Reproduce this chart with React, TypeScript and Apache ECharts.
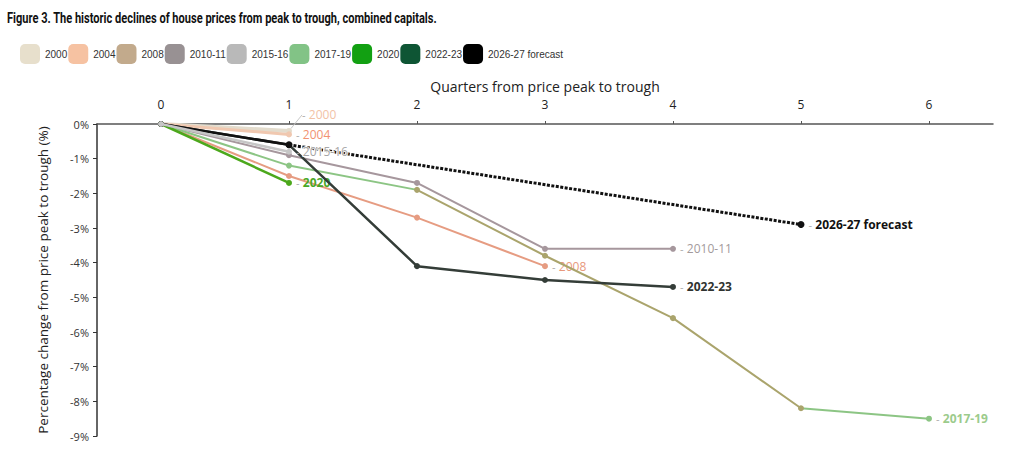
import React, { useEffect, useRef } from "react";
import * as echarts from "echarts";

const titleText =
  "Figure 3. The historic declines of house prices from peak to trough, combined capitals.";
const xAxisName = "Quarters from price peak to trough";
const yAxisName = "Percentage change from price peak to trough (%)";

const quarterTicks = [0, 1, 2, 3, 4, 5, 6];

const seriesNames = [
  "2000",
  "2004",
  "2008",
  "2010-11",
  "2015-16",
  "2017-19",
  "2020",
  "2022-23",
  "2026-27 forecast",
];

// values in % by quarter from peak (index = quarter)
const v2000 = [0, -0.2];
const v2004 = [0, -0.3];
const v2008 = [0, -1.5, -2.7, -4.1];
const v201011 = [0, -0.9, -1.7, -3.6, -3.6];
const v201516 = [0, -0.8];
const v201719 = [0, -1.2, -1.9, -3.8, -5.6, -8.2, -8.5];
const v2020 = [0, -1.7];
const v202223 = [0, -0.6, -4.1, -4.5, -4.7];
const forecastActual = [0, -0.6];
const forecastQuarters = [1, 5];
const forecastValues = [-0.6, -2.9];

const legendColors = [
  "#e7dfcc",
  "#f6c2a2",
  "#c2aa8c",
  "#989193",
  "#b9b9b9",
  "#82c386",
  "#12a012",
  "#0e5534",
  "#000000",
];
const lineColors = [
  "#e3dccd",
  "#f0c8b0",
  "#e69c82",
  "#a6979d",
  "#c6c6c6",
  "#8cc584",
  "#4ca81c",
  "#343d38",
  "#111111",
];
const labelColors = [
  "#f2c2a6",
  "#f29272",
  "#e8987c",
  "#a39a9c",
  "#a6a6a6",
  "#9ccb8c",
  "#4aa828",
  "#2f3330",
  "#111111",
];
const boldLabels = [false, false, false, false, false, true, true, true, true];
const lineWidths = [4, 3, 2, 2, 2.5, 2, 2.5, 2.5, 2.5];
const seriesZ = [2, 3, 4, 5, 30, 6, 7, 8];

const olive = "#aaa46c";

function buildData(xs: number[], ys: number[], idx: number, withLabel: boolean) {
  return ys.map((v, i) => {
    const point = [xs[i], v];
    if (withLabel && i === ys.length - 1) {
      return {
        value: point,
        label: {
          show: true,
          position: "right",
          distance: 4,
          formatter: "{d|-} {t|" + seriesNames[idx] + "}",
          rich: {
            d: { color: "#aaaaaa", fontSize: 11, fontFamily: "Open Sans" },
            t: {
              color: labelColors[idx],
              fontSize: 12,
              fontFamily: "Open Sans",
              fontWeight: boldLabels[idx] ? "bold" : "normal",
              textBorderColor: idx === 4 ? "rgba(255,255,255,0.85)" : undefined,
              textBorderWidth: idx === 4 ? 2 : 0,
            },
          },
        },
      };
    }
    return point;
  });
}

const idxArr = (arr: number[]) => arr.map((_, i) => i);

export default function App() {
  const ref = useRef<HTMLDivElement>(null);

  useEffect(() => {
    document.body.style.margin = "0";
    if (!ref.current) return;
    const chart = echarts.init(ref.current, undefined, { renderer: "svg" });

    const valueSets = [v2000, v2004, v2008, v201011, v201516, v201719, v2020, v202223];

    const series: any[] = valueSets.map((vals, idx) => {
      const s: any = {
        name: seriesNames[idx],
        type: "line",
        data: buildData(idxArr(vals), vals, idx, true),
        symbol: "circle",
        symbolSize: 6,
        lineStyle: { color: lineColors[idx], width: lineWidths[idx] },
        itemStyle: { color: lineColors[idx] },
        emphasis: { disabled: true },
        z: seriesZ[idx],
      };
      if (idx === 5) {
        s.lineStyle = { width: lineWidths[idx] };
        s.itemStyle = {};
      }
      if (idx === 0) {
        s.labelLayout = { dx: 6, dy: -16 };
        s.labelLine = { show: true, lineStyle: { color: "#c8c8c8", width: 1 } };
      }
      return s;
    });

    series.push({
      name: seriesNames[8],
      type: "line",
      data: buildData(idxArr(forecastActual), forecastActual, 8, false),
      symbol: "circle",
      symbolSize: 6,
      lineStyle: { color: lineColors[8], width: 2.5 },
      itemStyle: { color: lineColors[8] },
      emphasis: { disabled: true },
      z: 20,
    });
    series.push({
      name: seriesNames[8],
      type: "line",
      data: buildData(forecastQuarters, forecastValues, 8, true),
      symbol: "circle",
      symbolSize: 7,
      lineStyle: { color: lineColors[8], width: 3, type: [3, 1.5] },
      itemStyle: { color: lineColors[8] },
      emphasis: { disabled: true },
      z: 20,
    });

    chart.setOption({
      animation: false,
      backgroundColor: "#ffffff",
      graphic: [
        {
          type: "text",
          x: 7,
          y: 11,
          scaleX: 0.79,
          style: {
            text: titleText,
            fontFamily: "Roboto",
            fontWeight: "bold",
            fontSize: 14,
            fill: "#111111",
          },
        },
      ],
      legend: {
        left: 15,
        top: 39,
        itemWidth: 20,
        itemHeight: 20,
        itemGap: 1,
        icon: "roundRect",
        selectedMode: false,
        textStyle: {
          fontFamily: "Liberation Sans",
          fontSize: 10,
          color: "#333333",
        },
        data: seriesNames.map((n, i) => ({
          name: n,
          icon: "roundRect",
          itemStyle: { color: legendColors[i], borderWidth: 0 },
        })),
      },
      visualMap: [
        {
          type: "piecewise",
          show: false,
          seriesIndex: 5,
          dimension: 0,
          pieces: [
            { lt: 2, color: lineColors[5] },
            { gte: 2, lte: 5, color: olive },
            { gt: 5, color: lineColors[5] },
          ],
        },
      ],
      grid: { left: 97, right: 31, top: 124, bottom: 25 },
      xAxis: {
        type: "value",
        position: "top",
        min: -0.5,
        max: 6.5,
        name: xAxisName,
        nameLocation: "middle",
        nameGap: 31,
        nameTextStyle: { fontFamily: "Open Sans", fontSize: 14, color: "#222222" },
        axisLine: { show: true, onZero: false, lineStyle: { color: "#555555", width: 1.5 } },
        axisTick: {
          show: true,
          length: 3,
          customValues: quarterTicks,
          lineStyle: { color: "#555555" },
        },
        axisLabel: {
          customValues: quarterTicks,
          margin: 14,
          fontFamily: "Open Sans",
          fontSize: 12,
          color: "#222222",
        },
        splitLine: { show: false },
      },
      yAxis: {
        type: "value",
        min: -9,
        max: 0,
        interval: 1,
        name: yAxisName,
        nameLocation: "middle",
        nameGap: 47,
        nameTextStyle: {
          fontFamily: "Open Sans",
          fontSize: 13.5,
          color: "#222222",
        },
        axisLine: { show: true, onZero: false, lineStyle: { color: "#333333", width: 1.5 } },
        axisTick: { show: true, length: 4, lineStyle: { color: "#333333" } },
        axisLabel: {
          margin: 8,
          fontFamily: "Open Sans",
          fontSize: 11,
          color: "#333333",
          formatter: (v: number) => `${v}%`,
        },
        splitLine: { show: false },
      },
      series,
    });

    return () => chart.dispose();
  }, []);

  return <div ref={ref} style={{ width: 1024, height: 461 }} />;
}
